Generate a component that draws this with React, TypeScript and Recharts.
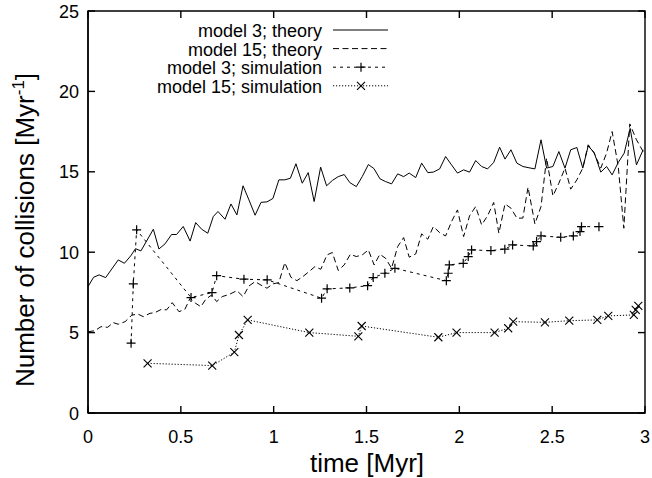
import React from 'react';
import { LineChart, Line, XAxis, YAxis, ReferenceArea } from 'recharts';

const xTicks = [0, 0.5, 1, 1.5, 2, 2.5, 3];
const yTicks = [0, 5, 10, 15, 20, 25];

const theory3T = [0, 0.03, 0.06, 0.095, 0.163, 0.196, 0.23, 0.256, 0.285, 0.352, 0.382, 0.415, 0.45, 0.477, 0.513, 0.55, 0.58, 0.612, 0.645, 0.675, 0.7, 0.738, 0.77, 0.802, 0.835, 0.867, 0.9, 0.932, 0.964, 0.996, 1.028, 1.06, 1.09, 1.12, 1.154, 1.186, 1.218, 1.253, 1.285, 1.316, 1.348, 1.38, 1.41, 1.445, 1.477, 1.51, 1.54, 1.573, 1.603, 1.635, 1.668, 1.7, 1.73, 1.765, 1.797, 1.83, 1.86, 1.894, 1.926, 1.958, 1.99, 2.023, 2.055, 2.088, 2.12, 2.152, 2.185, 2.217, 2.246, 2.278, 2.31, 2.342, 2.375, 2.407, 2.44, 2.47, 2.504, 2.536, 2.569, 2.6, 2.633, 2.665, 2.694, 2.726, 2.762, 2.793, 2.823, 2.856, 2.888, 2.92, 2.954, 2.99];
const theory3V = [7.86, 8.44, 8.59, 8.42, 9.52, 9.31, 9.77, 10.22, 10.08, 11.43, 10.2, 10.52, 11.1, 11.1, 11.6, 10.69, 11.84, 11.43, 11.18, 12.22, 12.53, 12.05, 13.0, 12.32, 14.13, 13.25, 12.3, 13.1, 13.13, 13.34, 14.5, 14.5, 14.6, 15.5, 14.29, 14.95, 13.15, 15.29, 14.13, 14.46, 14.7, 14.83, 14.33, 14.08, 14.7, 15.45, 15.2, 14.56, 14.39, 14.25, 14.87, 14.7, 14.92, 14.64, 15.54, 14.95, 14.98, 15.18, 15.95, 15.43, 14.92, 15.12, 14.98, 15.7, 15.33, 15.18, 15.58, 16.53, 15.79, 16.37, 15.54, 15.33, 15.25, 15.18, 16.99, 15.23, 15.33, 16.26, 15.23, 16.37, 16.51, 15.23, 16.61, 16.2, 14.98, 15.33, 14.81, 15.58, 16.16, 17.7, 15.43, 16.37];

const theory15T = [0, 0.037, 0.07, 0.106, 0.136, 0.163, 0.2, 0.235, 0.268, 0.298, 0.334, 0.36, 0.396, 0.423, 0.454, 0.49, 0.522, 0.55, 0.58, 0.608, 0.634, 0.666, 0.693, 0.723, 0.762, 0.802, 0.835, 0.867, 0.9, 0.932, 0.964, 0.996, 1.028, 1.06, 1.093, 1.125, 1.157, 1.19, 1.222, 1.254, 1.287, 1.316, 1.348, 1.38, 1.413, 1.445, 1.477, 1.51, 1.541, 1.572, 1.603, 1.635, 1.668, 1.7, 1.73, 1.765, 1.797, 1.83, 1.86, 1.894, 1.926, 1.958, 1.99, 2.023, 2.055, 2.088, 2.12, 2.152, 2.185, 2.213, 2.246, 2.278, 2.31, 2.342, 2.37, 2.407, 2.44, 2.47, 2.504, 2.536, 2.569, 2.6, 2.633, 2.665, 2.694, 2.726, 2.762, 2.793, 2.823, 2.856, 2.886, 2.918, 2.954, 2.99];
const theory15V = [5.05, 5.12, 5.37, 5.33, 5.62, 5.52, 5.68, 6.08, 6.16, 5.99, 6.2, 6.24, 6.45, 6.41, 6.86, 6.3, 6.45, 7.14, 6.82, 6.61, 7.07, 7.34, 6.93, 7.24, 7.38, 7.61, 7.24, 7.9, 8.17, 7.95, 7.76, 8.03, 8.11, 9.35, 8.44, 8.23, 8.48, 8.79, 9.1, 8.94, 9.83, 9.98, 8.86, 9.21, 9.87, 9.73, 9.83, 10.14, 9.21, 9.87, 9.62, 9.0, 10.35, 10.91, 9.69, 9.89, 11.14, 10.81, 11.59, 11.22, 11.01, 11.9, 12.63, 10.97, 12.26, 12.84, 11.7, 12.26, 13.09, 11.18, 13.0, 12.74, 12.12, 12.12, 14.04, 11.76, 12.84, 15.85, 13.5, 14.29, 15.23, 13.92, 14.5, 15.23, 16.68, 16.16, 15.23, 16.16, 17.5, 15.33, 11.49, 17.98, 16.99, 16.26];

const sim3T = [0.232, 0.244, 0.262, 0.555, 0.668, 0.693, 0.84, 0.965, 1.258, 1.288, 1.41, 1.506, 1.536, 1.599, 1.653, 1.93, 1.94, 1.946, 2.021, 2.048, 2.066, 2.17, 2.245, 2.287, 2.398, 2.416, 2.44, 2.546, 2.614, 2.65, 2.658, 2.752];
const sim3V = [4.34, 8.03, 11.39, 7.18, 7.49, 8.54, 8.32, 8.28, 7.14, 7.72, 7.78, 7.92, 8.42, 8.69, 9.0, 8.23, 8.69, 9.21, 9.31, 9.73, 10.14, 10.1, 10.19, 10.45, 10.39, 10.66, 11.01, 10.93, 11.01, 11.28, 11.59, 11.59];

const sim15T = [0.321, 0.669, 0.788, 0.813, 0.86, 1.192, 1.456, 1.474, 1.887, 1.985, 2.19, 2.263, 2.29, 2.461, 2.592, 2.743, 2.802, 2.94, 2.95, 2.964];
const sim15V = [3.09, 2.95, 3.78, 4.85, 5.79, 5.0, 4.77, 5.41, 4.71, 5.0, 5.0, 5.27, 5.68, 5.64, 5.74, 5.79, 6.04, 6.1, 6.41, 6.66];

const legendLabels = ['model 3; theory', 'model 15; theory', 'model 3; simulation', 'model 15; simulation'];

const toData = (t: number[], v: number[]) => t.map((x, i) => ({ t: x, v: v[i] }));

const theory3Data = toData(theory3T, theory3V);
const theory15Data = toData(theory15T, theory15V);
const sim3Data = toData(sim3T, sim3V);
const sim15Data = toData(sim15T, sim15V);

const FONT = '"Liberation Sans", Arial, Helvetica, sans-serif';
const DASH15 = '6 3.5';
const DASHSIM3 = '3 4';
const DASHSIM15 = '1.2 1.8';

const CHART_W = 652;
const CHART_H = 478;
const MARGIN = { top: 11, right: 7, bottom: 0, left: 0 };
const Y_AXIS_W = 88;
const X_AXIS_H = 65;
const PLOT_W = CHART_W - MARGIN.left - MARGIN.right - Y_AXIS_W;
const PLOT_H = CHART_H - MARGIN.top - MARGIN.bottom - X_AXIS_H;
const TICK_LEN = 7;
const X_MAX = 3;
const Y_MAX = 25;

const BottomTick = (p: any) => {
  const { x, y, payload } = p;
  return (
    <g>
      <rect x={x - 0.7} y={y - TICK_LEN} width={1.4} height={TICK_LEN} fill="#000" />
      <rect x={x - 0.7} y={y - PLOT_H} width={1.4} height={TICK_LEN} fill="#000" />
      <text x={x} y={y + 30} textAnchor="middle" fontSize={18} fontFamily={FONT} fill="#000">
        {String(payload.value)}
      </text>
    </g>
  );
};

const LeftTick = (p: any) => {
  const { x, y, payload } = p;
  return (
    <g>
      <rect x={x} y={y - 0.7} width={TICK_LEN} height={1.4} fill="#000" />
      <rect x={x + PLOT_W - TICK_LEN} y={y - 0.7} width={TICK_LEN} height={1.4} fill="#000" />
      <text x={x - 9} y={y + 6.5} textAnchor="end" fontSize={18} fontFamily={FONT} fill="#000">
        {String(payload.value)}
      </text>
    </g>
  );
};

const plusPath = (cx: number, cy: number, r: number) => `M${cx - r},${cy}H${cx + r}M${cx},${cy - r}V${cy + r}`;
const crossPath = (cx: number, cy: number, r: number) =>
  `M${cx - r},${cy - r}L${cx + r},${cy + r}M${cx - r},${cy + r}L${cx + r},${cy - r}`;

const PlusDot = (p: any) => {
  const { cx, cy } = p;
  if (cx == null || cy == null) return <g />;
  return <path d={plusPath(cx, cy, 4.5)} stroke="#000" strokeWidth={1.2} fill="none" />;
};

const CrossDot = (p: any) => {
  const { cx, cy } = p;
  if (cx == null || cy == null) return <g />;
  return <path d={crossPath(cx, cy, 4)} stroke="#000" strokeWidth={1.1} fill="none" />;
};

const Overlay = () => {
  const rows = [
    { dash: undefined as string | undefined, marker: null as null | 'plus' | 'cross' },
    { dash: DASH15, marker: null },
    { dash: DASHSIM3, marker: 'plus' },
    { dash: DASHSIM15, marker: 'cross' },
  ];
  return (
    <svg
      width={CHART_W}
      height={CHART_H}
      style={{ position: 'absolute', left: 0, top: 0, pointerEvents: 'none' }}
    >
      {rows.map((r, i) => {
        const base = 37 + i * 18.6;
        const ly = base - 7;
        return (
          <g key={i}>
            <text x={322} y={base} textAnchor="end" fontSize={18} fontFamily={FONT} fill="#000">
              {legendLabels[i]}
            </text>
            <line x1={333} x2={388} y1={ly} y2={ly} stroke="#000" strokeWidth={1} strokeDasharray={r.dash} />
            {r.marker === 'plus' && <path d={plusPath(361, ly, 4.5)} stroke="#000" strokeWidth={1.2} fill="none" />}
            {r.marker === 'cross' && <path d={crossPath(361, ly, 4)} stroke="#000" strokeWidth={1.1} fill="none" />}
          </g>
        );
      })}
      <text x={367} y={472} textAnchor="middle" fontSize={26} fontFamily={FONT} fill="#000">
        time [Myr]
      </text>
      <text
        x={34}
        y={230}
        transform="rotate(-90 34 230)"
        textAnchor="middle"
        fontSize={26}
        fontFamily={FONT}
        fill="#000"
      >
        Number of collisions [Myr
        <tspan fontSize={17} dy={-10}>-1</tspan>
        <tspan dy={10}>]</tspan>
      </text>
    </svg>
  );
};

export default function App() {
  return (
    <div style={{ position: 'absolute', left: 0, top: 0, width: CHART_W, height: CHART_H, background: '#fff' }}>
      <LineChart width={CHART_W} height={CHART_H} margin={MARGIN}>
        <XAxis
          dataKey="t"
          type="number"
          domain={[0, X_MAX]}
          ticks={xTicks}
          interval={0}
          height={X_AXIS_H}
          tick={BottomTick}
          tickLine={false}
          tickSize={0}
          tickMargin={0}
          stroke="#000"
          strokeWidth={1.4}
        />
        <YAxis
          type="number"
          domain={[0, Y_MAX]}
          ticks={yTicks}
          interval={0}
          width={Y_AXIS_W}
          tick={LeftTick}
          tickLine={false}
          tickSize={0}
          tickMargin={0}
          stroke="#000"
          strokeWidth={1.4}
        />
        <ReferenceArea
          x1={0}
          x2={X_MAX}
          y1={0}
          y2={Y_MAX}
          fill="none"
          stroke="#000"
          strokeWidth={1.4}
          ifOverflow="visible"
        />
        <Line data={theory3Data} dataKey="v" type="linear" stroke="#000" strokeWidth={1} dot={false} isAnimationActive={false} />
        <Line data={theory15Data} dataKey="v" type="linear" stroke="#000" strokeWidth={1} strokeDasharray={DASH15} dot={false} isAnimationActive={false} />
        <Line data={sim3Data} dataKey="v" type="linear" stroke="#000" strokeWidth={1} strokeDasharray={DASHSIM3} dot={PlusDot} isAnimationActive={false} />
        <Line data={sim15Data} dataKey="v" type="linear" stroke="#000" strokeWidth={1} strokeDasharray={DASHSIM15} dot={CrossDot} isAnimationActive={false} />
      </LineChart>
      <Overlay />
    </div>
  );
}
